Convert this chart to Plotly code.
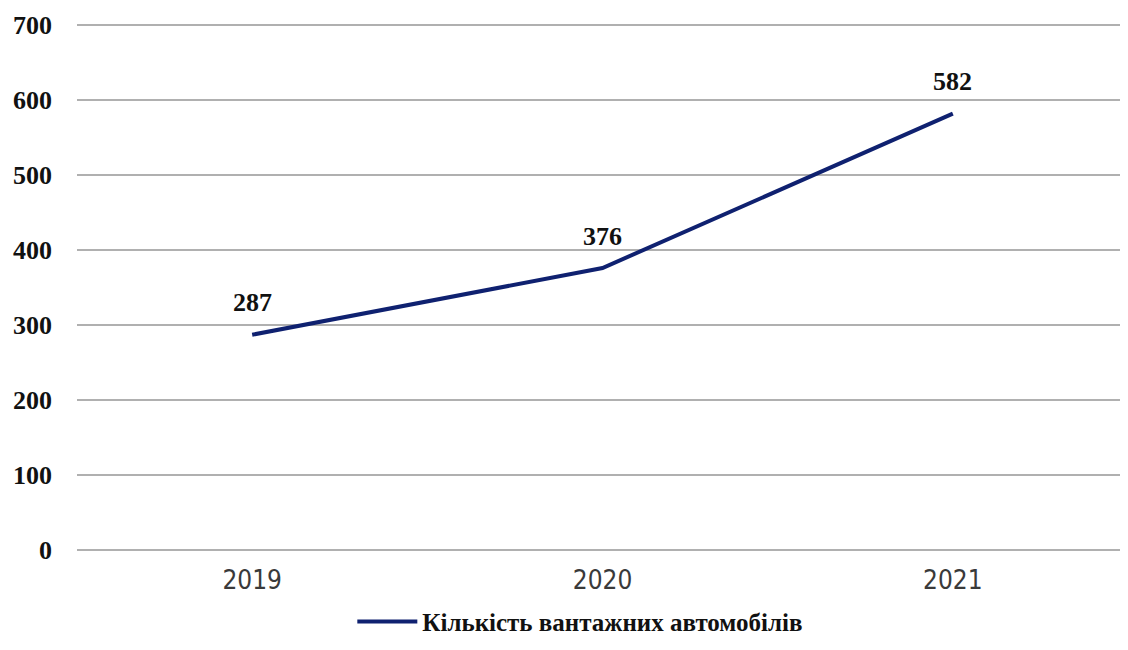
import plotly.graph_objects as go

years = ["2019", "2020", "2021"]
values = [287, 376, 582]
series_name = "Кількість вантажних автомобілів"
y_ticks = [0, 100, 200, 300, 400, 500, 600, 700]

navy = "#0f2170"
serif = "Liberation Serif, Times New Roman, serif"

fig = go.Figure()
fig.add_trace(go.Scatter(
    x=years, y=values, mode="lines", name=series_name,
    line=dict(color=navy, width=4),
))

for i, v in enumerate(values):
    fig.add_annotation(x=i, y=v, xref="x", yref="y", text=str(v), showarrow=False,
                       yshift=32,
                       font=dict(family=serif, size=26, color="#111", weight="bold"))

fig.update_layout(
    width=1120, height=634,
    margin=dict(l=69, r=0, t=15, b=90, autoexpand=False),
    paper_bgcolor="white", plot_bgcolor="white",
    showlegend=True,
    legend=dict(orientation="h", xref="container", yref="container",
                x=0.511, xanchor="center", y=0.032, yanchor="middle",
                font=dict(family=serif, size=25, color="#111", weight="bold"),
                itemwidth=60, bgcolor="rgba(0,0,0,0)"),
    xaxis=dict(type="category", range=[-0.5, 2.5], showgrid=False, zeroline=False,
               showline=False, ticks="", automargin=False, ticklabelstandoff=10,
               tickfont=dict(family="DejaVu Sans Condensed, Liberation Sans Narrow, sans-serif",
                             size=26, color="#3a3a3a")),
    yaxis=dict(range=[-3, 703], tickvals=y_ticks, showgrid=True, gridcolor="#b0b0b0", gridwidth=2,
               zeroline=False, showline=False, ticks="", ticklabelstandoff=24, automargin=False,
               tickfont=dict(family=serif, size=26, color="#111", weight="bold")),
)

fig.write_html("out.html")
